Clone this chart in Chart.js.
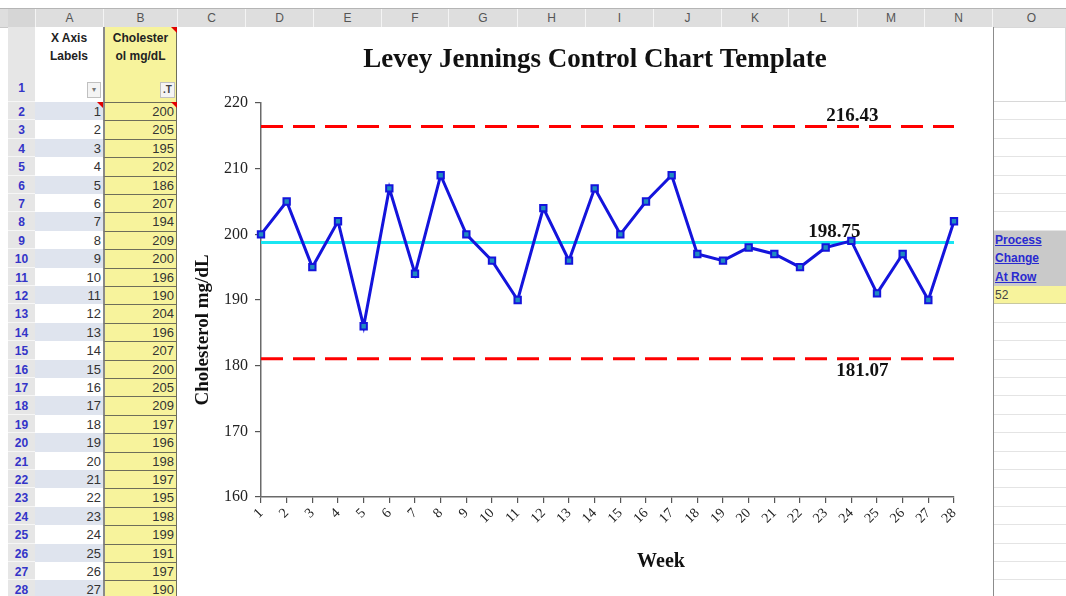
<!DOCTYPE html>
<html>
<head>
<meta charset="utf-8">
<script src="https://cdn.jsdelivr.net/npm/chart.js@4.4.1/dist/chart.umd.min.js"></script>
<style>
  body { margin: 0; width: 1066px; height: 596px; overflow: hidden; background: #fff; position: relative;
         font-family: Arial, "Liberation Sans", sans-serif; }
  .c { position: absolute; box-sizing: border-box; white-space: nowrap; overflow: hidden; }
  #chartBox { position: absolute; left: 177px; top: 27px; width: 816px; height: 569px; background: #fff; }
</style>
</head>
<body>
<div id="sheet"></div>
<div id="chartBox"><canvas id="lj" width="816" height="569"></canvas></div>
<script>
// chart data
const weeks = [1, 2, 3, 4, 5, 6, 7, 8, 9, 10, 11, 12, 13, 14, 15, 16, 17, 18, 19, 20, 21, 22, 23, 24, 25, 26, 27, 28];
const cholesterol = [200, 205, 195, 202, 186, 207, 194, 209, 200, 196, 190, 204, 196, 207, 200, 205, 209, 197, 196, 198, 197, 195, 198, 199, 191, 197, 190, 202];
const meanValue = 198.75;
const uclValue = 216.43;
const lclValue = 181.07;
const yTicks = [160, 170, 180, 190, 200, 210, 220];

// spreadsheet bits
const colLetters = ['A', 'B', 'C', 'D', 'E', 'F', 'G', 'H', 'I', 'J', 'K', 'L', 'M', 'N', 'O'];
const colEdges = [35, 103, 177, 245, 313, 381, 448, 517, 585, 653, 721, 788, 857, 924, 992, 1070];
const sideLabels = ['Process', 'Change', 'At Row'];
const sideValue = '52';

const sheet = document.getElementById('sheet');
function cell(x, y, w, h, style, text) {
    const d = document.createElement('div');
    d.className = 'c';
    Object.assign(d.style, { left: x + 'px', top: y + 'px', width: w + 'px', height: h + 'px' }, style || {});
    if (text != null) d.textContent = text;
    sheet.appendChild(d);
    return d;
}
function rowTop(r) { return r === 1 ? 27 : 102 + (r - 2) * 18.4; }
function rowH(r) { return r === 1 ? 75 : 18.4; }
function redCorner(x, y) {
    cell(x - 6, y, 6, 6, { width: '0', height: '0', borderTop: '6px solid #e00000', borderLeft: '6px solid transparent' });
}

// column header band
cell(0, 8, 1066, 20, { background: '#dedede', borderTop: '1px solid #b5b5b5', borderBottom: '1px solid #c8c8c8' });
cell(8, 9, 27, 18, { background: '#d6d6d6' });
colLetters.forEach((l, i) => {
    const x = colEdges[i], w = colEdges[i + 1] - colEdges[i];
    cell(x, 9, w, 18, { borderLeft: '1px solid #f4f4f4', color: '#555', fontSize: '12px', textAlign: 'center', lineHeight: '18px' }, l);
});

// row headers, column A and B
for (let r = 1; r <= 28; r++) {
    const y = rowTop(r), h = rowH(r);
    cell(8, y, 27, h, { background: '#e6e6e6', borderBottom: '1px solid #f6f6f6', color: '#3434c8', fontSize: '12px',
        fontWeight: 'bold', textAlign: 'center', lineHeight: (r === 1 ? 120 : 18) + 'px', paddingTop: '1px' }, String(r));
    if (r === 1) continue;
    const shade = r % 2 === 0;
    cell(35, y, 68, h, { background: shade ? '#dfe4ee' : '#fff', color: '#333', fontSize: '13px', textAlign: 'right',
        paddingRight: '2px', lineHeight: '19px' }, String(weeks[r - 2]));
    cell(103, y, 74, h, { background: '#f7f39c', borderTop: '1px solid #6e6e5a', borderLeft: '2px solid #8a8a8a',
        borderRight: '1px solid #6e6e5a', color: '#333', fontSize: '13px', textAlign: 'right', paddingRight: '2px', lineHeight: '18px' },
        String(cholesterol[r - 2]));
}
// header cells of A and B
cell(35, 27, 68, 75, { background: '#fff', fontWeight: 'bold', fontSize: '12px', textAlign: 'center', whiteSpace: 'pre-line',
    lineHeight: '18px', paddingTop: '2px', color: '#222' }, 'X Axis\nLabels');
cell(103, 27, 74, 75, { background: '#f7f39c', borderLeft: '2px solid #8a8a8a', borderRight: '1px solid #6e6e5a',
    fontWeight: 'bold', fontSize: '12px', textAlign: 'center', whiteSpace: 'pre-line',
    lineHeight: '18px', paddingTop: '2px', color: '#222' }, 'Cholester\nol mg/dL');
cell(87, 82, 14, 16, { background: '#f4f4f4', border: '1px solid #c0c0c0', fontSize: '8px', color: '#777', textAlign: 'center', lineHeight: '14px' }, '\u25BE');
cell(160, 82, 15, 16, { background: '#f4f4f4', border: '1px solid #c0c0c0', fontSize: '10px', fontWeight: 'bold', color: '#444', textAlign: 'center', lineHeight: '14px' }, '.T');
redCorner(177, 27);
redCorner(103, 102);
redCorner(177, 102);

// column O
cell(992, 27, 74, 75, { background: '#fff', border: '1px solid #d8d8d8' });
for (let r = 2; r <= 28; r++) {
    const y = rowTop(r);
    let st = { background: '#fff', borderBottom: '1px solid #e4e4e4' };
    let txt = null;
    if (r >= 9 && r <= 11) {
        st = { background: '#c9c9c9', color: '#2a2ad0', fontWeight: 'bold', fontSize: '12px', textDecoration: 'underline',
            paddingLeft: '3px', lineHeight: '19px' };
        txt = sideLabels[r - 9];
    } else if (r === 12) {
        st = { background: '#f7f39c', borderBottom: '1px solid #c8c8a0', color: '#444', fontSize: '12px', paddingLeft: '3px', lineHeight: '18px' };
        txt = sideValue;
    }
    cell(992, y, 74, 18.4, st, txt);
}
cell(991, 27, 3, 569, { background: '#8c8c8c' });

// chart labels drawn on the canvas
const limitLabels = {
    id: 'limitLabels',
    afterDatasetsDraw(chart) {
        const { ctx, scales: { x, y } } = chart;
        const ax = x.getPixelForValue(23);
        ctx.save();
        ctx.fillStyle = '#111';
        ctx.textAlign = 'center';
        ctx.textBaseline = 'middle';
        ctx.font = 'bold 19px "Liberation Serif", serif';
        ctx.fillText(uclValue.toFixed(2), ax + 1, y.getPixelForValue(uclValue) - 10);
        ctx.fillText(meanValue.toFixed(2), ax - 17, y.getPixelForValue(meanValue) - 10);
        ctx.fillText(lclValue.toFixed(2), ax + 11, y.getPixelForValue(lclValue) + 12);

        ctx.font = 'bold 27px "Liberation Serif", serif';
        ctx.fillText('Levey Jennings Control Chart Template', 418, 33);
        ctx.font = 'bold 20px "Liberation Serif", serif';
        ctx.fillText('Week', 484, 535);
        ctx.translate(26, 303);
        ctx.rotate(-Math.PI / 2);
        ctx.font = 'bold 19px "Liberation Serif", serif';
        ctx.fillText('Cholesterol mg/dL', 0, 0);
        ctx.restore();
    }
};

new Chart(document.getElementById('lj'), {
    type: 'line',
    data: {
        labels: weeks.map(String),
        datasets: [
            { label: 'UCL', data: weeks.map(() => uclValue), borderColor: '#ff0000', borderWidth: 3,
              borderDash: [22, 10], pointRadius: 0, order: 3 },
            { label: 'LCL', data: weeks.map(() => lclValue), borderColor: '#ff0000', borderWidth: 3,
              borderDash: [22, 10], pointRadius: 0, order: 3 },
            { label: 'Mean', data: weeks.map(() => meanValue), borderColor: '#19e6f2', borderWidth: 3,
              pointRadius: 0, order: 2 },
            { label: 'Cholesterol mg/dL', data: cholesterol, borderColor: '#1414dc', borderWidth: 3,
              pointStyle: 'rect', pointRadius: 4.5, pointBackgroundColor: '#1f8cc0', pointBorderColor: '#1414dc',
              pointBorderWidth: 2, tension: 0, order: 1 }
        ]
    },
    options: {
        responsive: false,
        animation: false,
        layout: { padding: { left: 0, top: 76, right: 39, bottom: 0 } },
        plugins: { legend: { display: false }, tooltip: { enabled: false } },
        scales: {
            x: {
                grid: { drawOnChartArea: false, tickLength: 6, color: '#555', lineWidth: 1.2 },
                border: { color: '#6a6a6a', width: 1.5 },
                ticks: { minRotation: 45, maxRotation: 45, autoSkip: false, color: '#222',
                         font: { family: '"Liberation Serif", serif', size: 14 }, padding: 2 },
                afterFit(s) { s.height = 99; }
            },
            y: {
                min: yTicks[0],
                max: yTicks[yTicks.length - 1],
                afterBuildTicks(s) { s.ticks = yTicks.map(v => ({ value: v })); },
                grid: { drawOnChartArea: false, tickLength: 6, color: '#555', lineWidth: 1.2 },
                border: { color: '#6a6a6a', width: 1.5 },
                ticks: { color: '#222', font: { family: '"Liberation Serif", serif', size: 16 }, padding: 7 },
                afterFit(s) { s.width = 84; }
            }
        }
    },
    plugins: [limitLabels]
});
</script>
</body>
</html>
